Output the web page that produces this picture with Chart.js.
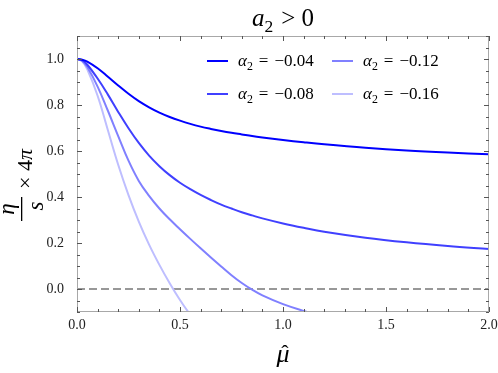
<!DOCTYPE html>
<html lang="en">
<head>
    <meta charset="UTF-8">
    <title>eta/s vs mu hat</title>
    <script src="https://cdn.jsdelivr.net/npm/chart.js"></script>
    <style>
        body {
            margin: 0;
            background: #ffffff;
        }
        #wrap {
            position: relative;
            width: 498px;
            height: 373px;
        }
    </style>
</head>
<body>
    <div id="wrap">
        <canvas id="etaChart" width="498" height="373"></canvas>
    </div>

    <script>
        // values (mu hat on x, eta/s * 4pi on y)
        const muGrid = [0, 0.025, 0.05, 0.1, 0.15, 0.2, 0.25, 0.3, 0.35, 0.4, 0.45, 0.5, 0.55, 0.6, 0.65, 0.7, 0.75, 0.8, 0.85, 0.9, 1.0, 1.1, 1.2, 1.4, 1.6, 1.8, 2.0];
        const eta004 = [1.0, 0.997, 0.989, 0.96, 0.923, 0.885, 0.849, 0.817, 0.79, 0.767, 0.748, 0.732, 0.718, 0.706, 0.696, 0.687, 0.679, 0.672, 0.665, 0.659, 0.648, 0.638, 0.629, 0.614, 0.602, 0.593, 0.586];
        const eta008 = [1.0, 0.995, 0.975, 0.915, 0.845, 0.77, 0.699, 0.635, 0.58, 0.534, 0.495, 0.462, 0.434, 0.409, 0.387, 0.367, 0.35, 0.334, 0.32, 0.307, 0.285, 0.266, 0.249, 0.223, 0.203, 0.187, 0.174];
        const eta012 = [1.0, 0.992, 0.965, 0.88, 0.775, 0.665, 0.558, 0.47, 0.405, 0.35, 0.303, 0.26, 0.218, 0.177, 0.137, 0.098, 0.06, 0.026, -0.003, -0.028, -0.066, -0.095, -0.12, null, null, null, null];
        const eta016 = [1.0, 0.99, 0.955, 0.84, 0.69, 0.54, 0.408, 0.293, 0.193, 0.105, 0.025, -0.048, -0.113, null, null, null, null, null, null, null, null, null, null, null, null, null, null];
        const alphaLabels = ['−0.04', '−0.08', '−0.12', '−0.16'];
        const seriesColors = ['rgb(0,0,255)', 'rgb(64,64,255)', 'rgb(128,128,255)', 'rgb(190,190,255)'];
        const refMu = [0, 2];
        const refEta = [0, 0];
        const xTicks = [0, 0.5, 1.0, 1.5, 2.0];
        const yTicks = [0, 0.2, 0.4, 0.6, 0.8, 1.0];

        const SERIF = '"Liberation Serif", "DejaVu Serif", serif';

        function pts(xs, ys) {
            return xs.map((x, i) => ({ x: x, y: ys[i] }));
        }

        // small math string: segments [text, style]; i = italic, r = roman, s = subscript, g = gap in px
        function drawMath(ctx, segs, x, y, size, doDraw) {
            let cx = x;
            segs.forEach(seg => {
                const t = seg[0], st = seg[1];
                if (st === 'g') { cx += t; return; }
                let fs = size, dy = 0, it = '';
                if (st === 'i') it = 'italic ';
                if (st === 's') { fs = size * 0.7; dy = size * 0.25; }
                ctx.font = it + fs + 'px ' + SERIF;
                if (doDraw) ctx.fillText(t, cx, y + dy);
                cx += ctx.measureText(t).width;
            });
            return cx - x;
        }

        const mathPlugin = {
            id: 'mathFrame',
            afterDraw(chart) {
                const ctx = chart.ctx;
                const a = chart.chartArea;
                const xs = chart.scales.x, ys = chart.scales.y;
                ctx.save();

                // frame
                ctx.strokeStyle = '#a8a8a8';
                ctx.lineWidth = 1;
                ctx.strokeRect(a.left + 0.5, a.top + 0.5, a.right - a.left - 1, a.bottom - a.top - 1);

                // inward ticks on all sides
                ctx.strokeStyle = '#555';
                ctx.beginPath();
                for (let k = 0; k <= 20; k++) {
                    const px = Math.round(xs.getPixelForValue(k * 0.1)) + 0.5;
                    const len = (k % 5 === 0) ? 5 : 3;
                    ctx.moveTo(px, a.bottom); ctx.lineTo(px, a.bottom - len);
                    ctx.moveTo(px, a.top); ctx.lineTo(px, a.top + len);
                }
                for (let k = -2; k <= 22; k++) {
                    const py = Math.round(ys.getPixelForValue(k * 0.05)) + 0.5;
                    const len = (k % 4 === 0) ? 5 : 3;
                    ctx.moveTo(a.left, py); ctx.lineTo(a.left + len, py);
                    ctx.moveTo(a.right, py); ctx.lineTo(a.right - len, py);
                }
                ctx.stroke();

                ctx.fillStyle = '#000';
                ctx.textBaseline = 'alphabetic';
                ctx.textAlign = 'left';

                // title  a_2 > 0
                const tSegs = [['a', 'i'], ['2', 's'], [8, 'g'], ['>', 'r'], [6, 'g'], ['0', 'r']];
                const tw = drawMath(ctx, tSegs, 0, 0, 25, false);
                drawMath(ctx, tSegs, 283 - tw / 2, 26, 25, true);

                // x axis title: mu with hat
                ctx.font = 'italic 26px ' + SERIF;
                ctx.textAlign = 'center';
                ctx.fillText('μ', 283, 362);
                ctx.font = '22px ' + SERIF;
                ctx.fillText('ˆ', 285, 360);

                // y axis title, rotated: eta/s x 4pi
                ctx.save();
                ctx.rotate(-Math.PI / 2);
                ctx.font = 'italic 23px ' + SERIF;
                ctx.fillText('η', -209, 14);
                ctx.fillText('s', -206, 43);
                ctx.fillRect(-221, 21, 24, 1.3);
                ctx.textAlign = 'left';
                ctx.font = '22px ' + SERIF;
                let ux = -189;
                ctx.fillText('×', ux, 32);
                ux += ctx.measureText('× ').width;
                ctx.fillText('4', ux, 32);
                ux += ctx.measureText('4').width;
                ctx.font = 'italic 22px ' + SERIF;
                ctx.fillText('π', ux, 32);
                ctx.restore();

                // legend, two columns
                ctx.textAlign = 'left';
                chart.data.datasets.forEach((ds, i) => {
                    if (!ds.alpha) return;
                    const col = Math.floor(i / 2), row = i % 2;
                    const lx = 207 + col * 125;
                    const ly = 61 + row * 33;
                    ctx.strokeStyle = ds.borderColor;
                    ctx.lineWidth = 2;
                    ctx.beginPath();
                    ctx.moveTo(lx, ly); ctx.lineTo(lx + 21, ly);
                    ctx.stroke();
                    ctx.fillStyle = '#000';
                    drawMath(ctx, [['α', 'i'], ['2', 's'], [6, 'g'], ['=', 'r'], [6, 'g'], [ds.alpha, 'r']], lx + 31, ly + 5, 17, true);
                });

                ctx.restore();
            }
        };

        const datasets = [eta004, eta008, eta012, eta016].map((ys, i) => ({
            label: 'α₂ = ' + alphaLabels[i],
            alpha: alphaLabels[i],
            data: pts(muGrid, ys),
            borderColor: seriesColors[i],
            borderWidth: 2,
            pointRadius: 0,
            fill: false,
            tension: 0.4,
            clip: 0
        }));
        datasets.push({
            label: 'zero',
            data: pts(refMu, refEta),
            borderColor: '#777777',
            borderWidth: 1.6,
            borderDash: [8, 4],
            pointRadius: 0,
            fill: false,
            clip: 0
        });

        const ctx = document.getElementById('etaChart').getContext('2d');
        const etaChart = new Chart(ctx, {
            type: 'line',
            data: { datasets: datasets },
            options: {
                responsive: false,
                animation: false,
                devicePixelRatio: 1,
                layout: { padding: { top: 36, right: 9, left: 0, bottom: 0 } },
                plugins: {
                    legend: { display: false },
                    tooltip: { enabled: false }
                },
                scales: {
                    x: {
                        type: 'linear',
                        min: 0,
                        max: 2,
                        afterBuildTicks: s => { s.ticks = xTicks.map(v => ({ value: v })); },
                        afterFit: s => { s.height = 61; },
                        grid: { display: false },
                        border: { display: false },
                        ticks: {
                            padding: -3,
                            maxRotation: 0,
                            color: '#222',
                            font: { family: SERIF, size: 14 },
                            callback: v => Number(v).toFixed(1)
                        }
                    },
                    y: {
                        type: 'linear',
                        min: -0.1,
                        max: 1.1,
                        afterBuildTicks: s => { s.ticks = yTicks.map(v => ({ value: v })); },
                        afterFit: s => { s.width = 77; },
                        grid: { display: false },
                        border: { display: false },
                        ticks: {
                            padding: 5,
                            color: '#222',
                            font: { family: SERIF, size: 14 },
                            callback: v => Number(v).toFixed(1)
                        }
                    }
                }
            },
            plugins: [mathPlugin]
        });
    </script>
</body>
</html>
